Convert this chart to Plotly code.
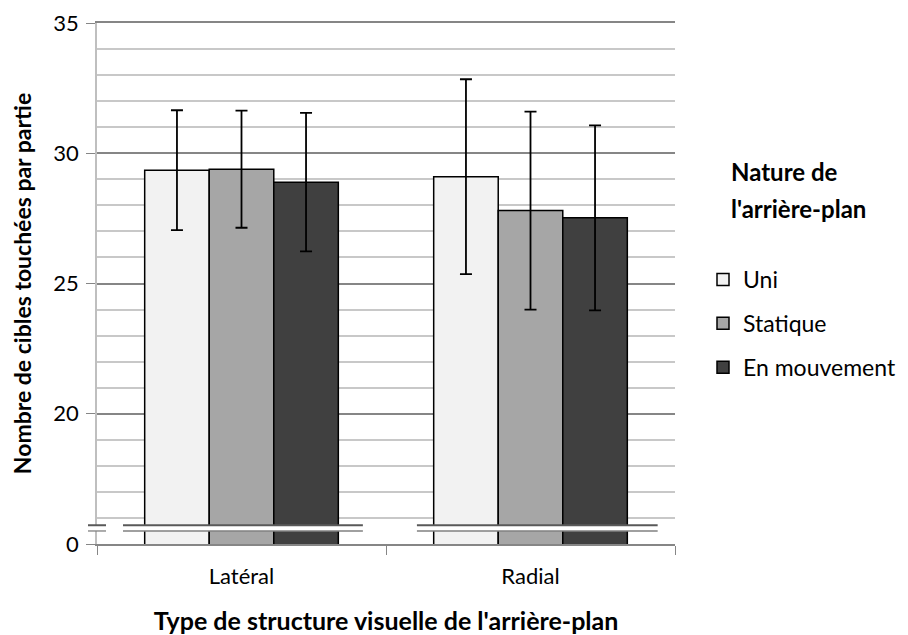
import plotly.graph_objects as go

# data
categories = ["Latéral", "Radial"]
series_names = ["Uni", "Statique", "En mouvement"]
means_uni = [29.35, 29.10]
means_statique = [29.39, 27.80]
means_mouvement = [28.89, 27.52]
err_uni = [2.30, 3.74]
err_statique = [2.25, 3.80]
err_mouvement = [2.66, 3.55]

colors = ["#f2f2f2", "#a6a6a6", "#404040"]
FONT = "Lato"
W, H = 900, 627
M_L, M_R, M_T, M_B = 89, 233, 15, 91
PLOT_W = W - M_L - M_R
PLOT_H = H - M_T - M_B

fig = go.Figure()
for i, (name, y, e) in enumerate(zip(
        series_names,
        [means_uni, means_statique, means_mouvement],
        [err_uni, err_statique, err_mouvement])):
    fig.add_trace(go.Bar(
        x=categories,
        y=y,
        name=name,
        legendgroup=name,
        marker=dict(color=colors[i], line=dict(color="#000000", width=1.5)),
        error_y=dict(type="data", array=e, visible=True,
                     color="#000000", thickness=1.8, width=6),
    ))

# axis break drawn as decoration (axis starts at 0, shown from 15 upward)
AXIS_BOTTOM = 15
BRK_LO, BRK_HI = 15.5, 15.72
shapes = [
    dict(type="rect", xref="paper", yref="y", x0=-0.03, x1=1.0,
         y0=BRK_LO, y1=BRK_HI, fillcolor="white", line=dict(width=0), layer="above"),
]
for x0, x1, ref in [(-0.0156, 0.0156, "paper"), (-0.41, 0.42, "x"), (0.607, 1.44, "x")]:
    shapes.append(dict(type="line", xref=ref, yref="y", x0=x0, x1=x1, y0=BRK_HI, y1=BRK_HI,
                       line=dict(color="#595959", width=2), layer="above"))
    shapes.append(dict(type="line", xref=ref, yref="y", x0=x0, x1=x1, y0=BRK_LO, y1=BRK_LO,
                       line=dict(color="#808080", width=1.3), layer="above"))

# legend title split over two lines, as in the original
title_lines = ["<b>Nature de</b>", "<b>l'arrière-plan</b>"]
annotations = []
for k, line in enumerate(title_lines):
    annotations.append(dict(
        text=line, xref="paper", yref="paper",
        x=(632 + 0.0) / PLOT_W, y=1 - (163 + 37 * k - M_T) / PLOT_H,
        xanchor="left", yanchor="middle",
        showarrow=False, font=dict(size=24),
    ))

fig.update_layout(
    width=W, height=H,
    margin=dict(l=M_L, r=M_R, t=M_T, b=M_B),
    plot_bgcolor="white", paper_bgcolor="white",
    font=dict(family=FONT, size=22, color="#000000"),
    barmode="group", bargap=0.33, bargroupgap=0,
    shapes=shapes,
    annotations=annotations,
    showlegend=True,
    legend=dict(
        xref="container", yref="container",
        x=695 / W, y=1 - 250 / H, xanchor="left", yanchor="top",
        font=dict(size=23), tracegroupgap=11, bgcolor="rgba(0,0,0,0)",
    ),
    xaxis=dict(
        title=dict(text="<b>Type de structure visuelle de l'arrière-plan</b>",
                   font=dict(size=25), standoff=24),
        automargin=False,
        showline=True, mirror=True, linecolor="#868686", linewidth=1.5,
        ticks="outside", tickson="boundaries", ticklen=9, tickcolor="#868686",
        ticklabelstandoff=12,
        tickfont=dict(size=22), showgrid=False,
    ),
    yaxis=dict(
        title=dict(text="<b>Nombre de cibles touchées par partie</b>",
                   font=dict(size=23), standoff=26),
        automargin=False,
        range=[AXIS_BOTTOM, 35],
        tickmode="array", tickvals=[15, 20, 25, 30, 35],
        ticktext=["0", "20", "25", "30", "35"],
        ticks="outside", ticklen=9, tickcolor="#868686",
        ticklabelstandoff=3, ticklabeloverflow="allow",
        tickfont=dict(size=22),
        showgrid=True, gridcolor="#868686", gridwidth=1.5,
        showline=True, linecolor="#bfbfbf", linewidth=1.5,
        zeroline=False,
        minor=dict(tickmode="array", tickvals=list(range(16, 35)),
                   showgrid=True, gridcolor="#c8c8c8", gridwidth=1.5, ticks=""),
    ),
)

fig.write_html("out.html")
